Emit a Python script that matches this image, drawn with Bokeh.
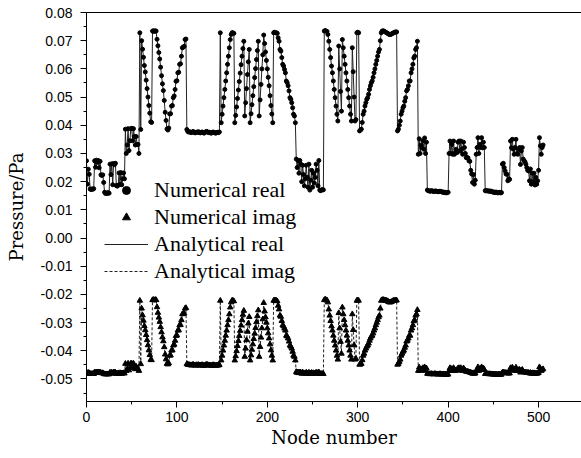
from bokeh.plotting import figure
from bokeh.models import (LinearAxis, SingleIntervalTicker, FixedTicker, Legend,
                          LegendItem, PrintfTickFormatter)
from bokeh.embed import file_html
from bokeh.resources import INLINE

# Real part of pressure at each node (node number = list index)
REAL = [
    0.0274, 0.0191, 0.0244, 0.0226, 0.0174, 0.0172, 0.0174, 0.0173, 0.0175, 0.0274,
    0.0251, 0.0276, 0.0268, 0.0275, 0.0249, 0.0272, 0.0224, 0.0222, 0.0224, 0.0197,
    0.0162, 0.0158, 0.0160, 0.0158, 0.0161, 0.0159, 0.0262, 0.0225, 0.0263, 0.0189,
    0.0264, 0.0260, 0.0265, 0.0186, 0.0184, 0.0187, 0.0231, 0.0190, 0.0232, 0.0189,
    0.0210, 0.0231, 0.0210,
    0.0386, 0.0300, 0.0330, 0.0388, 0.0310, 0.0345, 0.0388, 0.0389, 0.0345, 0.0388,
    0.0360, 0.0330, 0.0360, 0.0332, 0.0332, 0.0300,
    0.0728, 0.0385,
    0.0700, 0.0670, 0.0641, 0.0612, 0.0589, 0.0560, 0.0530, 0.0500, 0.0470, 0.0443, 0.0412, 0.0410,
    0.0734, 0.0735, 0.0733, 0.0735, 0.0734,
    0.0705, 0.0682, 0.0658, 0.0635, 0.0606, 0.0576, 0.0547, 0.0523, 0.0488, 0.0446, 0.0417, 0.0387,
    0.0383,
    0.0390, 0.0440, 0.0441, 0.0468, 0.0470, 0.0498, 0.0504, 0.0527, 0.0556, 0.0558,
    0.0586, 0.0588, 0.0616, 0.0618, 0.0645, 0.0675, 0.0677, 0.0680, 0.0704, 0.0706,
    0.0385,
    0.0378, 0.0376, 0.0377, 0.0375, 0.0374, 0.0376, 0.0378, 0.0375, 0.0373, 0.0374,
    0.0376, 0.0375, 0.0377, 0.0374, 0.0373, 0.0375, 0.0376, 0.0374, 0.0372, 0.0374,
    0.0377, 0.0378, 0.0376, 0.0374, 0.0375, 0.0373, 0.0372, 0.0374, 0.0376, 0.0375,
    0.0373, 0.0372, 0.0374, 0.0375, 0.0374, 0.0376,
    0.0728, 0.0409,
    0.0439, 0.0468, 0.0498, 0.0527, 0.0557, 0.0586, 0.0616, 0.0645, 0.0675, 0.0704,
    0.0722, 0.0728, 0.0728, 0.0726,
    0.0409,
    0.0435, 0.0465, 0.0495, 0.0525, 0.0555, 0.0585, 0.0615, 0.0645, 0.0672, 0.0698,
    0.0433,
    0.0480, 0.0530, 0.0580, 0.0625, 0.0669,
    0.0409,
    0.0441, 0.0473, 0.0505, 0.0537, 0.0569, 0.0601, 0.0633, 0.0665, 0.0698,
    0.0433,
    0.0490, 0.0545, 0.0600, 0.0650, 0.0720,
    0.0690, 0.0660, 0.0630, 0.0600, 0.0570, 0.0540, 0.0505, 0.0470, 0.0440, 0.0409,
    0.0728, 0.0730, 0.0728, 0.0728, 0.0726,
    0.0710, 0.0698, 0.0669, 0.0663, 0.0640, 0.0616, 0.0610, 0.0598, 0.0586, 0.0557,
    0.0551, 0.0540, 0.0522, 0.0498, 0.0492, 0.0480, 0.0462, 0.0439, 0.0433, 0.0409,
    0.0280, 0.0250, 0.0275, 0.0230, 0.0275, 0.0262, 0.0200, 0.0258, 0.0225, 0.0185,
    0.0210, 0.0258, 0.0215, 0.0180, 0.0262, 0.0170, 0.0205, 0.0240, 0.0180, 0.0230,
    0.0195, 0.0215, 0.0262, 0.0240, 0.0185, 0.0275, 0.0170, 0.0168, 0.0170, 0.0172,
    0.0171,
    0.0734, 0.0736, 0.0734, 0.0733, 0.0722,
    0.0698, 0.0669, 0.0640, 0.0610, 0.0586, 0.0557, 0.0527, 0.0498, 0.0468, 0.0439, 0.0415,
    0.0681, 0.0600, 0.0520, 0.0450,
    0.0704, 0.0675, 0.0645, 0.0616, 0.0586, 0.0557, 0.0527, 0.0498, 0.0468, 0.0439, 0.0415,
    0.0675, 0.0590, 0.0500, 0.0415, 0.0420,
    0.0728, 0.0730, 0.0728,
    0.0380,
    0.0383, 0.0386, 0.0410, 0.0439, 0.0450, 0.0468, 0.0480, 0.0492, 0.0498, 0.0510,
    0.0527, 0.0540, 0.0551, 0.0557, 0.0570, 0.0586, 0.0600, 0.0616, 0.0630, 0.0645,
    0.0660, 0.0669, 0.0700, 0.0728,
    0.0734, 0.0735, 0.0734, 0.0732, 0.0730, 0.0728, 0.0726, 0.0724, 0.0722, 0.0722,
    0.0723, 0.0725, 0.0727, 0.0728, 0.0730, 0.0731, 0.0731,
    0.0380,
    0.0386, 0.0400, 0.0415, 0.0439, 0.0450, 0.0462, 0.0468, 0.0485, 0.0498, 0.0522,
    0.0527, 0.0540, 0.0557, 0.0557, 0.0586, 0.0600, 0.0616, 0.0639, 0.0645, 0.0669,
    0.0675, 0.0698,
    0.0297, 0.0352, 0.0300, 0.0330, 0.0320, 0.0345, 0.0315, 0.0355, 0.0300, 0.0340,
    0.0170, 0.0168, 0.0167, 0.0166, 0.0167, 0.0168, 0.0166, 0.0165, 0.0166, 0.0167,
    0.0166, 0.0165, 0.0164, 0.0165, 0.0166, 0.0165, 0.0164, 0.0162, 0.0163, 0.0161,
    0.0162, 0.0160, 0.0161, 0.0162,
    0.0300, 0.0344, 0.0300, 0.0332, 0.0297, 0.0344, 0.0297, 0.0303, 0.0315, 0.0303,
    0.0340, 0.0344, 0.0309, 0.0344, 0.0315, 0.0297, 0.0340, 0.0321, 0.0300, 0.0285,
    0.0286, 0.0284,
    0.0274, 0.0272, 0.0240, 0.0227, 0.0197, 0.0225, 0.0191, 0.0205,
    0.0297, 0.0321, 0.0356, 0.0300, 0.0332, 0.0321, 0.0356, 0.0320, 0.0340, 0.0321,
    0.0168, 0.0167, 0.0168, 0.0167, 0.0166, 0.0167, 0.0165, 0.0166, 0.0164, 0.0162,
    0.0163, 0.0161, 0.0163, 0.0162, 0.0160, 0.0161, 0.0162, 0.0160, 0.0161,
    0.0262, 0.0265, 0.0250, 0.0238, 0.0227, 0.0226, 0.0203, 0.0210, 0.0208,
    0.0344, 0.0320, 0.0350, 0.0315, 0.0297, 0.0321, 0.0350, 0.0300, 0.0297, 0.0315,
    0.0321, 0.0261, 0.0309, 0.0321, 0.0280, 0.0274, 0.0270, 0.0262,
    0.0250, 0.0240, 0.0238, 0.0203, 0.0245, 0.0191, 0.0230, 0.0200, 0.0230, 0.0188,
    0.0215, 0.0191, 0.0203, 0.0240,
    0.0356, 0.0327, 0.0297, 0.0321, 0.0330,
]

# Imaginary part of pressure at each node
IMAG = [
    -0.0476, -0.0481, -0.0478, -0.0479, -0.0482, -0.0482, -0.0482, -0.0482, -0.0482, -0.0476,
    -0.0478, -0.0476, -0.0477, -0.0476, -0.0478, -0.0476, -0.0479, -0.0479, -0.0479, -0.0481,
    -0.0483, -0.0483, -0.0483, -0.0483, -0.0483, -0.0483, -0.0477, -0.0479, -0.0477, -0.0481,
    -0.0477, -0.0477, -0.0477, -0.0481, -0.0481, -0.0481, -0.0479, -0.0481, -0.0479, -0.0481,
    -0.0480, -0.0479, -0.0480,
    -0.0446, -0.0471, -0.0465, -0.0445, -0.0469, -0.0461, -0.0445, -0.0445, -0.0461, -0.0445,
    -0.0456, -0.0465, -0.0456, -0.0464, -0.0464, -0.0471,
    -0.0222, -0.0447,
    -0.0250, -0.0274, -0.0293, -0.0312, -0.0327, -0.0344, -0.0362, -0.0380, -0.0398, -0.0415,
    -0.0432, -0.0433,
    -0.0220, -0.0219, -0.0221, -0.0219, -0.0220,
    -0.0245, -0.0265, -0.0282, -0.0297, -0.0316, -0.0334, -0.0352, -0.0366, -0.0387, -0.0413,
    -0.0430, -0.0446,
    -0.0448,
    -0.0444, -0.0417, -0.0416, -0.0399, -0.0398, -0.0381, -0.0378, -0.0364, -0.0347, -0.0345,
    -0.0328, -0.0327, -0.0309, -0.0308, -0.0291, -0.0270, -0.0269, -0.0267, -0.0250, -0.0248,
    -0.0447,
    -0.0449, -0.0450, -0.0450, -0.0451, -0.0452, -0.0450, -0.0449, -0.0451, -0.0452, -0.0452,
    -0.0450, -0.0451, -0.0450, -0.0452, -0.0452, -0.0451, -0.0450, -0.0452, -0.0453, -0.0452,
    -0.0450, -0.0449, -0.0450, -0.0452, -0.0451, -0.0452, -0.0453, -0.0452, -0.0450, -0.0451,
    -0.0452, -0.0453, -0.0452, -0.0451, -0.0452, -0.0450,
    -0.0222, -0.0434,
    -0.0417, -0.0399, -0.0381, -0.0364, -0.0346, -0.0328, -0.0309, -0.0291, -0.0270, -0.0246,
    -0.0228, -0.0222, -0.0222, -0.0224,
    -0.0434,
    -0.0419, -0.0401, -0.0383, -0.0365, -0.0347, -0.0329, -0.0310, -0.0291, -0.0272, -0.0258,
    -0.0421,
    -0.0392, -0.0362, -0.0332, -0.0303, -0.0280,
    -0.0434,
    -0.0416, -0.0396, -0.0377, -0.0358, -0.0339, -0.0319, -0.0298, -0.0277, -0.0256,
    -0.0421,
    -0.0386, -0.0353, -0.0320, -0.0288, -0.0230,
    -0.0260, -0.0281, -0.0300, -0.0320, -0.0338, -0.0356, -0.0377, -0.0398, -0.0417, -0.0434,
    -0.0222, -0.0221, -0.0222, -0.0222, -0.0224,
    -0.0240, -0.0253, -0.0275, -0.0279, -0.0294, -0.0309, -0.0313, -0.0321, -0.0328, -0.0346,
    -0.0349, -0.0356, -0.0367, -0.0381, -0.0385, -0.0392, -0.0403, -0.0417, -0.0421, -0.0434,
    -0.0475, -0.0478, -0.0476, -0.0479, -0.0476, -0.0477, -0.0481, -0.0477, -0.0479, -0.0481,
    -0.0480, -0.0477, -0.0480, -0.0482, -0.0477, -0.0482, -0.0480, -0.0478, -0.0482, -0.0479,
    -0.0481, -0.0480, -0.0477, -0.0478, -0.0481, -0.0476, -0.0482, -0.0482, -0.0482, -0.0482,
    -0.0482,
    -0.0220, -0.0218, -0.0220, -0.0221, -0.0228,
    -0.0253, -0.0275, -0.0294, -0.0313, -0.0328, -0.0346, -0.0364, -0.0381, -0.0399, -0.0417, -0.0431,
    -0.0266, -0.0320, -0.0368, -0.0410,
    -0.0246, -0.0270, -0.0291, -0.0309, -0.0328, -0.0346, -0.0364, -0.0381, -0.0399, -0.0417, -0.0431,
    -0.0270, -0.0326, -0.0380, -0.0431, -0.0428,
    -0.0222, -0.0221, -0.0222,
    -0.0449,
    -0.0448, -0.0446, -0.0433, -0.0417, -0.0410, -0.0399, -0.0392, -0.0385, -0.0381, -0.0374,
    -0.0364, -0.0356, -0.0349, -0.0346, -0.0338, -0.0328, -0.0320, -0.0309, -0.0300, -0.0291,
    -0.0281, -0.0275, -0.0250, -0.0222,
    -0.0220, -0.0219, -0.0220, -0.0221, -0.0222, -0.0222, -0.0224, -0.0226, -0.0228, -0.0228,
    -0.0227, -0.0225, -0.0223, -0.0222, -0.0222, -0.0221, -0.0221,
    -0.0449,
    -0.0446, -0.0439, -0.0431, -0.0417, -0.0410, -0.0403, -0.0399, -0.0389, -0.0381, -0.0367,
    -0.0364, -0.0356, -0.0346, -0.0346, -0.0328, -0.0320, -0.0309, -0.0295, -0.0291, -0.0275,
    -0.0270, -0.0255,
    -0.0471, -0.0459, -0.0471, -0.0465, -0.0467, -0.0461, -0.0468, -0.0458, -0.0471, -0.0462,
    -0.0481, -0.0482, -0.0482, -0.0483, -0.0482, -0.0482, -0.0483, -0.0483, -0.0482, -0.0482,
    -0.0483, -0.0483, -0.0484, -0.0483, -0.0482, -0.0483, -0.0484, -0.0484, -0.0483, -0.0484,
    -0.0484, -0.0485, -0.0484, -0.0484,
    -0.0471, -0.0461, -0.0471, -0.0464, -0.0471, -0.0461, -0.0471, -0.0470, -0.0468, -0.0470,
    -0.0462, -0.0461, -0.0469, -0.0461, -0.0468, -0.0471, -0.0462, -0.0467, -0.0471, -0.0474,
    -0.0474, -0.0474,
    -0.0476, -0.0476, -0.0478, -0.0479, -0.0481, -0.0479, -0.0481, -0.0480,
    -0.0471, -0.0467, -0.0458, -0.0471, -0.0464, -0.0467, -0.0458, -0.0467, -0.0462, -0.0467,
    -0.0482, -0.0482, -0.0482, -0.0482, -0.0483, -0.0482, -0.0483, -0.0483, -0.0483, -0.0484,
    -0.0484, -0.0484, -0.0484, -0.0484, -0.0485, -0.0484, -0.0484, -0.0485, -0.0484,
    -0.0477, -0.0477, -0.0478, -0.0478, -0.0479, -0.0479, -0.0480, -0.0480, -0.0480,
    -0.0461, -0.0467, -0.0459, -0.0468, -0.0471, -0.0467, -0.0459, -0.0471, -0.0471, -0.0468,
    -0.0467, -0.0477, -0.0469, -0.0467, -0.0475, -0.0476, -0.0476, -0.0477,
    -0.0478, -0.0478, -0.0478, -0.0480, -0.0478, -0.0481, -0.0479, -0.0481, -0.0479, -0.0481,
    -0.0480, -0.0481, -0.0480, -0.0478,
    -0.0458, -0.0465, -0.0471, -0.0467, -0.0465,
]

X_TICK_STEP = 100
Y_TICK_STEP = 0.01
X_TITLE = "Node number"
Y_TITLE = "Pressure/Pa"
LEGEND_LABELS = ["Numerical real", "Numerical imag", "Analytical real", "Analytical imag"]

nodes_r = list(range(len(REAL)))
nodes_i = list(range(len(IMAG)))

p = figure(width=581, height=458, x_range=(0, 547.5), y_range=(-0.058, 0.08),
           output_backend="svg", toolbar_location=None,
           min_border_left=86, min_border_right=0, min_border_top=12, min_border_bottom=57,
           x_axis_label=X_TITLE, y_axis_label=Y_TITLE)
p.grid.visible = False
p.outline_line_color = None
p.background_fill_color = "white"
p.border_fill_color = "white"

p.xaxis.ticker = SingleIntervalTicker(interval=X_TICK_STEP, num_minor_ticks=2)
p.yaxis.ticker = SingleIntervalTicker(interval=Y_TICK_STEP, num_minor_ticks=2)
p.yaxis.formatter = PrintfTickFormatter(format="%.2f")

p.axis.axis_line_color = "black"
p.axis.major_tick_line_color = "black"
p.axis.minor_tick_line_color = "black"
p.axis.major_tick_in = 0
p.axis.major_tick_out = 6
p.axis.minor_tick_in = 0
p.axis.minor_tick_out = 3
p.axis.major_label_text_font = "Liberation Sans"
p.axis.major_label_text_font_size = "14px"
p.axis.major_label_text_color = "black"
p.axis.axis_label_text_font = "DejaVu Serif"
p.axis.axis_label_text_font_size = "18px"
p.axis.axis_label_text_font_style = "normal"
p.axis.axis_label_text_color = "black"

p.yaxis.major_label_standoff = 8
p.yaxis.axis_label_standoff = 11
p.xaxis.major_label_standoff = 4
p.xaxis.axis_label_standoff = 2

top = LinearAxis(ticker=FixedTicker(ticks=[]), axis_line_color="black",
                 major_tick_out=0, major_tick_in=0, minor_tick_out=0, minor_tick_in=0,
                 major_label_standoff=0)
p.add_layout(top, "above")

lr = p.line(nodes_r, REAL, line_color="#222222", line_width=1)
sr = p.scatter(nodes_r, REAL, marker="circle", size=4, fill_color="black", line_color="black")
li = p.line(nodes_i, IMAG, line_color="#222222", line_width=1, line_dash="3 2")
si = p.scatter(nodes_i, IMAG, marker="triangle", size=5.5, fill_color="black", line_color="black")

legend = Legend(items=[
    LegendItem(label=LEGEND_LABELS[0], renderers=[sr]),
    LegendItem(label=LEGEND_LABELS[1], renderers=[si]),
    LegendItem(label=LEGEND_LABELS[2], renderers=[lr]),
    LegendItem(label=LEGEND_LABELS[3], renderers=[li]),
], location=(18, 117))
legend.background_fill_alpha = 0
legend.border_line_color = None
legend.label_text_font = "Liberation Serif"
legend.label_text_font_size = "22px"
legend.label_text_color = "black"
legend.glyph_width = 44
legend.glyph_height = 20
legend.label_height = 20
legend.spacing = 1
legend.padding = 0
legend.margin = 0
legend.label_standoff = 6
p.add_layout(legend)

open("out.html", "w").write(file_html(p, INLINE))
